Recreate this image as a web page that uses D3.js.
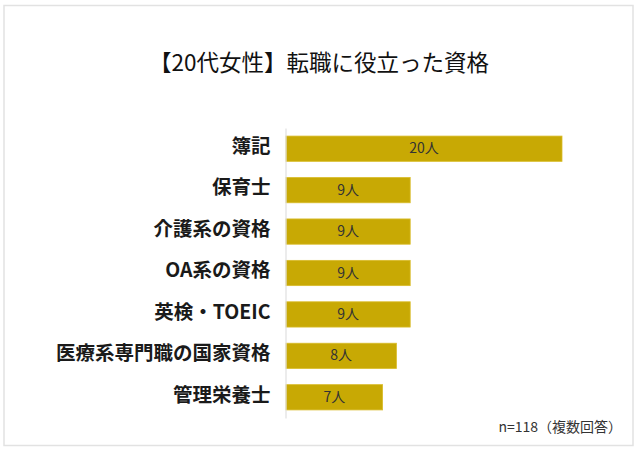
<!DOCTYPE html>
<html><head><meta charset="utf-8">
<script src="https://cdn.jsdelivr.net/npm/d3@7"></script>
<style>body{margin:0;background:#fff;}svg{display:block;}</style>
</head><body>
<script>
const title = "【20代女性】転職に役立った資格";
const categories = ["簿記","保育士","介護系の資格","OA系の資格","英検・TOEIC","医療系専門職の国家資格","管理栄養士"];
const values = [20,9,9,9,9,8,7];
const valueSuffix = "人";
const note = "n=118（複数回答）";

const W=640,H=453;
const svg=d3.select("body").append("svg").attr("width",W).attr("height",H);
svg.append("rect").attr("x",4).attr("y",5.5).attr("width",629).attr("height",440)
  .attr("fill","#fff").attr("stroke","#e2e2e2").attr("stroke-width",1.5);

svg.append("text").attr("x",319).attr("y",71).attr("text-anchor","middle")
  .attr("font-family","'Noto Sans CJK JP'").attr("font-size",22.5).attr("fill","#111")
  .text(title);

const x=d3.scaleLinear().domain([0,20]).range([286,562]);
const y=d3.scaleBand().domain(categories).range([128,418]).paddingInner(0.39).paddingOuter(0.195);

const g=svg.append("g");
g.selectAll("rect.bar").data(values).join("rect").attr("class","bar")
  .attr("x",x(0)).attr("y",(d,i)=>y(categories[i]))
  .attr("width",d=>x(d)-x(0)).attr("height",y.bandwidth())
  .attr("fill","#C8A904").attr("stroke","#D9BC2A").attr("stroke-width",0.8);

g.selectAll("text.val").data(values).join("text").attr("class","val")
  .attr("x",d=>(x(0)+x(d))/2).attr("y",(d,i)=>y(categories[i])+y.bandwidth()/2+4.5)
  .attr("text-anchor","middle").attr("font-family","'Noto Sans CJK JP'").attr("font-size",14)
  .attr("fill","#333").text(d=>d+valueSuffix);

const axis=d3.axisLeft(y).tickSize(0).tickPadding(15);
const ax=svg.append("g").attr("transform",`translate(${x(0)-0.5},0)`).call(axis);
ax.select(".domain").attr("stroke","#e0e0e0").attr("stroke-width",1.2);
ax.selectAll("text").attr("font-family","'Noto Sans CJK JP'").attr("font-size",19.5)
  .attr("font-weight",700).attr("fill","#1a1a1a").attr("dy","0.22em");

svg.append("text").attr("x",622).attr("y",432).attr("text-anchor","end")
  .attr("font-family","'Noto Sans CJK JP'").attr("font-size",14).attr("fill","#333").text(note);
</script>
</body></html>
